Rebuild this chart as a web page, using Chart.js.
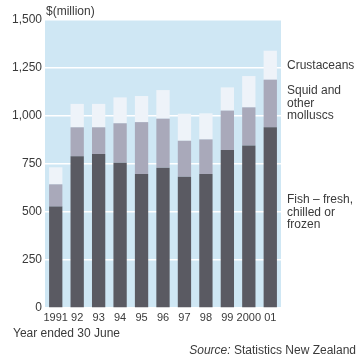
<!DOCTYPE html>
<html><head><meta charset="utf-8">
<script src="https://cdn.jsdelivr.net/npm/chart.js@4/dist/chart.umd.min.js"></script>
<style>html,body{margin:0;padding:0;background:#fff}#wrap{width:362px;height:358px;position:relative}</style>
</head><body><div id="wrap"><canvas id="c" width="362" height="358"></canvas></div>
<script>
const years = ["1991","92","93","94","95","96","97","98","99","2000","01"];
const fish = [528, 790, 802, 757, 698, 731, 684, 698, 823, 847, 941];
const squid = [116, 151, 139, 205, 270, 255, 187, 180, 205, 198, 248];
const crustaceans = [89, 122, 122, 135, 136, 149, 141, 136, 121, 163, 151];
const yTicks = [0, 250, 500, 750, 1000, 1250, 1500];
const seriesLabels = [["Fish \u2013 fresh,","chilled or","frozen"],["Squid and","other","molluscs"],["Crustaceans"]];

const FONT = "'Liberation Sans', Arial, sans-serif";
const TXT = "#3a3a3a";

const bgPlugin = {
  id: "bg",
  beforeDraw(chart) {
    const {ctx, chartArea: a} = chart;
    ctx.save();
    ctx.fillStyle = "#cfe7f4";
    ctx.fillRect(a.left, a.top, a.right - a.left, a.bottom - a.top);
    ctx.restore();
  },
  afterDraw(chart) {
    const {ctx, chartArea: a} = chart;
    const y = chart.scales.y;
    ctx.save();
    ctx.fillStyle = TXT;
    ctx.font = "12px " + FONT;
    ctx.textBaseline = "middle";
    ctx.textAlign = "left";
    ctx.fillText("$(million)", 46, 12);
    ctx.fillText("Year ended 30 June", 13, 334);
    // Source line, right aligned
    ctx.textAlign = "right";
    const rest = " Statistics New Zealand";
    ctx.fillText(rest, 356, 351);
    const w = ctx.measureText(rest).width;
    ctx.font = "italic 12px " + FONT;
    ctx.fillText("Source:", 356 - w, 351);
    // series labels aligned to the middle of the last bar's segments
    ctx.font = "12px " + FONT;
    ctx.textAlign = "left";
    const last = years.length - 1;
    const segs = [fish, squid, crustaceans];
    let base = 0;
    segs.forEach((arr, i) => {
      const mid = base + arr[last] / 2;
      base += arr[last];
      const lines = seriesLabels[i];
      const cy = y.getPixelForValue(mid) + (i === 0 ? -5 : 0);
      const lh = 12.5;
      lines.forEach((t, k) => {
        ctx.fillText(t, 287, cy + (k - (lines.length - 1) / 2) * lh);
      });
    });
    ctx.restore();
  }
};

new Chart(document.getElementById("c"), {
  type: "bar",
  data: {
    labels: years,
    datasets: [
      {label: "Fish", data: fish, backgroundColor: "#5a5a62"},
      {label: "Squid", data: squid, backgroundColor: "#a9a9ba"},
      {label: "Crustaceans", data: crustaceans, backgroundColor: "#eef3f9"}
    ]
  },
  options: {
    responsive: false,
    animation: false,
    devicePixelRatio: 1,
    layout: {padding: {left: 0, right: 81, top: 20, bottom: 0}},
    datasets: {bar: {barPercentage: 0.62, categoryPercentage: 1, borderWidth: 0}},
    plugins: {legend: {display: false}, tooltip: {enabled: false}},
    scales: {
      x: {
        stacked: true,
        grid: {display: false, drawTicks: false},
        border: {display: false},
        ticks: {color: TXT, font: {family: FONT, size: 11}, padding: 3, maxRotation: 0, autoSkip: false},
        afterFit(s) { s.height = 50; }
      },
      y: {
        stacked: true,
        min: 0, max: 1500,
        afterBuildTicks(s) { s.ticks = yTicks.map(v => ({value: v})); },
        grid: {color: "#ffffff", lineWidth: 1.5, drawTicks: false},
        border: {display: false},
        ticks: {
          color: TXT, font: {family: FONT, size: 12}, padding: 3,
          callback: v => v.toLocaleString("en-US")
        },
        afterFit(s) { s.width = 45; }
      }
    }
  },
  plugins: [bgPlugin]
});
</script></body></html>
